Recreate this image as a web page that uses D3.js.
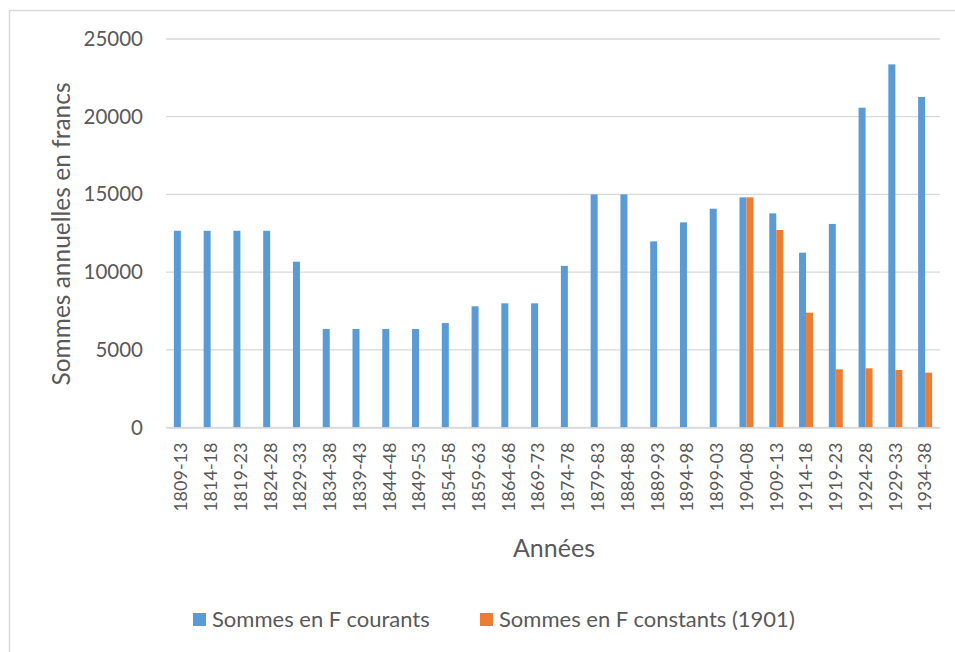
<!DOCTYPE html>
<html>
<head>
<meta charset="utf-8">
<script src="https://cdn.jsdelivr.net/npm/d3@7"></script>
<style>
  body { margin: 0; background: #fff; }
  svg text { font-family: Lato, "Open Sans", sans-serif; fill: #595959; }
</style>
</head>
<body>
<svg id="chart" width="955" height="652"></svg>
<script>
// ===== Données =====
const periodes = ["1809-13", "1814-18", "1819-23", "1824-28", "1829-33", "1834-38", "1839-43",
  "1844-48", "1849-53", "1854-58", "1859-63", "1864-68", "1869-73", "1874-78", "1879-83",
  "1884-88", "1889-93", "1894-98", "1899-03", "1904-08", "1909-13", "1914-18", "1919-23",
  "1924-28", "1929-33", "1934-38"];

const sommesCourants = [12660, 12660, 12660, 12660, 10670, 6340, 6340, 6340, 6340, 6720, 7800,
  7990, 7990, 10400, 15000, 15000, 11980, 13200, 14080, 14810, 13780, 11250, 13100,
  20580, 23370, 21270];

// seulement à partir de 1904-08
const sommesConstants = [null, null, null, null, null, null, null, null, null, null, null,
  null, null, null, null, null, null, null, null, 14810, 12710, 7390, 3740, 3810, 3700, 3530];

const seriesNames = ["Sommes en F courants", "Sommes en F constants (1901)"];
const colors = ["#5B9BD5", "#ED7D31"];
const yTicks = [0, 5000, 10000, 15000, 20000, 25000];

// ===== SVG =====
const svg = d3.select("#chart");

// cadre
svg.append("path")
  .attr("d", "M9.5,652 V10.5 H955")
  .attr("fill", "none")
  .attr("stroke", "#D9D9D9")
  .attr("stroke-width", 1.5);

const x = d3.scaleBand()
  .domain(periodes)
  .range([166, 940]);

const xSub = d3.scaleBand()
  .domain([0, 1])
  .range([0, 14]);

const y = d3.scaleLinear()
  .domain([0, 25000])
  .range([427.5, 39]);

// lignes de grille
svg.append("g")
  .selectAll("line")
  .data(yTicks)
  .enter()
  .append("line")
  .attr("x1", 166)
  .attr("x2", 940)
  .attr("y1", d => y(d))
  .attr("y2", d => y(d))
  .attr("stroke", "#D9D9D9")
  .attr("stroke-width", 1.3);

// axe Y
const yAxis = svg.append("g")
  .attr("transform", "translate(150,0)")
  .call(d3.axisLeft(y).tickValues(yTicks).tickSize(0).tickPadding(0).tickFormat(d3.format("d")));
yAxis.select(".domain").remove();
yAxis.selectAll("text")
  .attr("font-size", "20.5px")
  .style("font-family", "Lato, sans-serif")
  .attr("fill", "#595959")
  .attr("dx", "-7");

// barres
const seriesData = [sommesCourants, sommesConstants];
seriesData.forEach(function (vals, i) {
  svg.append("g")
    .selectAll("rect")
    .data(periodes.map((p, j) => ({ p: p, v: vals[j] })).filter(d => d.v != null))
    .enter()
    .append("rect")
    .attr("x", d => x(d.p) + (x.bandwidth() - 14) / 2 + xSub(i))
    .attr("width", xSub.bandwidth())
    .attr("y", d => y(d.v))
    .attr("height", d => y(0) - y(d.v))
    .attr("fill", colors[i]);
});

// axe X
const xAxis = svg.append("g")
  .attr("transform", "translate(0,427.5)")
  .call(d3.axisBottom(x).tickSize(0).tickPadding(0));
xAxis.select(".domain")
  .attr("stroke", "#D9D9D9")
  .attr("stroke-width", 1.3);
xAxis.selectAll("text")
  .attr("font-size", "18px")
  .style("font-family", "Lato, sans-serif")
  .attr("fill", "#595959")
  .attr("text-anchor", "end")
  .attr("transform", "rotate(-90)")
  .attr("x", -15)
  .attr("y", 0)
  .attr("dy", "0.35em");

// titres des axes
svg.append("text")
  .attr("transform", "translate(70,234) rotate(-90)")
  .attr("text-anchor", "middle")
  .attr("font-size", "24.5px")
  .text("Sommes annuelles en francs");

svg.append("text")
  .attr("x", 554)
  .attr("y", 557)
  .attr("text-anchor", "middle")
  .attr("font-size", "25px")
  .text("Années");

// légende
const legendX = [193, 480];
const legend = svg.append("g");
seriesNames.forEach(function (name, i) {
  legend.append("rect")
    .attr("x", legendX[i])
    .attr("y", 613)
    .attr("width", 13)
    .attr("height", 13)
    .attr("fill", colors[i]);
  legend.append("text")
    .attr("x", legendX[i] + 19)
    .attr("y", 627)
    .attr("font-size", "22px")
    .text(name);
});
</script>
</body>
</html>
